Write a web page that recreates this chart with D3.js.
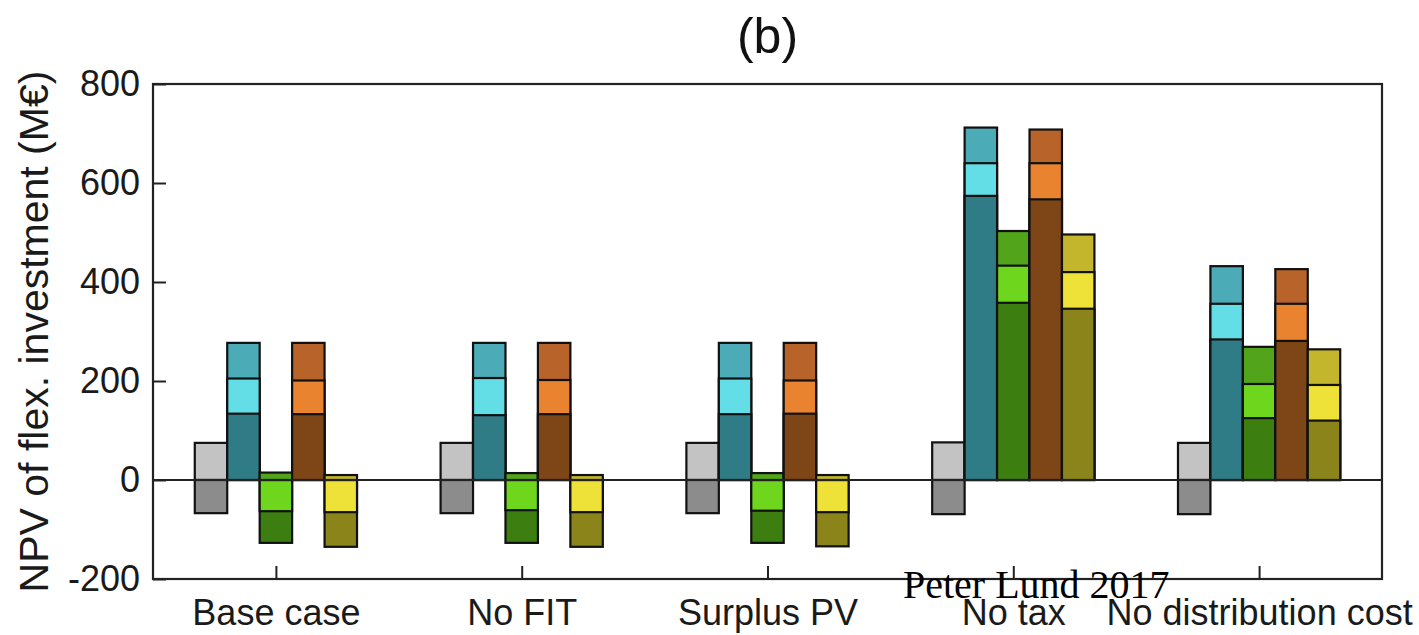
<!DOCTYPE html>
<html>
<head>
<meta charset="utf-8">
<script src="https://cdn.jsdelivr.net/npm/d3@7"></script>
<style>
body { margin: 0; background: #fff; }
</style>
</head>
<body>
<script>
// categories along the x axis
var categories = ['Base case', 'No FIT', 'Surplus PV', 'No tax', 'No distribution cost'];
var yTicks = [-200, 0, 200, 400, 600, 800];

// NPV per technology and scenario (M€), one row per category
// order of values: dark, light, medium scenario
var grayVals   = [[-67, 75], [-67, 75], [-67, 75], [-69, 76], [-69, 75]];
var tealVals   = [[134, 205, 277], [131, 206, 277], [133, 205, 277], [574, 640, 712], [284, 356, 432]];
var greenVals  = [[-127, -63, 15], [-127, -61, 14], [-127, -62, 14], [358, 433, 503], [125, 194, 269]];
var brownVals  = [[133, 201, 277], [133, 202, 277], [134, 201, 277], [567, 640, 708], [281, 356, 426]];
var yellowVals = [[-135, -65, 10], [-135, -65, 10], [-134, -65, 10], [346, 420, 496], [120, 192, 264]];

var techs = [
	{ vals: grayVals,   colors: ['#8c8c8c', '#c3c3c3'] },
	{ vals: tealVals,   colors: ['#2f7b86', '#63dee7', '#4babb6'] },
	{ vals: greenVals,  colors: ['#3d7e10', '#6dd61d', '#52a51a'] },
	{ vals: brownVals,  colors: ['#7e4516', '#e9832f', '#b8632a'] },
	{ vals: yellowVals, colors: ['#8a841a', '#eee137', '#c3b52c'] }
];

var W = 1419, H = 635;
var margin = { left: 153, right: 1382, top: 84, bottom: 579 };
var BARW = 0.132; // bar width in x units (matlab style grouped bars)
var FONT = '"Liberation Sans", Arial, sans-serif';

var svg = d3.select('body').append('svg')
	.attr('width', W)
	.attr('height', H)
	.style('font-family', FONT);

var x = d3.scaleLinear().domain([0.5, 5.5]).range([margin.left, margin.right]);
var y = d3.scaleLinear().domain([-200, 800]).range([margin.bottom, margin.top]);

// ------------------------ BARS ------------------------
var bars = [];
categories.forEach(function(cat, i) {
	techs.forEach(function(t, j) {
		var vs = t.vals[i].map(function(v, k) { return { v: v, color: t.colors[k] }; });
		// biggest first so smaller ones sit on top
		vs.sort(function(a, b) { return Math.abs(b.v) - Math.abs(a.v); });
		vs.forEach(function(s) {
			bars.push({ xc: i + 1 + (j - 2) * BARW, v: s.v, color: s.color });
		});
	});
});

svg.append('g').selectAll('rect')
	.data(bars)
	.enter()
	.append('rect')
	.attr('x', function(d) { return x(d.xc - BARW / 2); })
	.attr('width', function(d) { return x(BARW) - x(0); })
	.attr('y', function(d) { return Math.min(y(0), y(d.v)); })
	.attr('height', function(d) { return Math.abs(y(d.v) - y(0)); })
	.attr('fill', function(d) { return d.color; })
	.attr('stroke', '#111')
	.attr('stroke-width', 2.2);

// zero line
svg.append('line')
	.attr('x1', margin.left).attr('x2', margin.right)
	.attr('y1', y(0)).attr('y2', y(0))
	.attr('stroke', '#222')
	.attr('stroke-width', 1.8);

// ------------------------ AXES ------------------------
var yAxis = d3.axisLeft(y).tickValues(yTicks)
	.tickFormat(function(d) { return String(d); })
	.tickSize(-13).tickPadding(13);
var gy = svg.append('g').attr('transform', 'translate(' + margin.left + ',0)').call(yAxis);

var xAxis = d3.axisBottom(x).tickValues([1, 2, 3, 4, 5])
	.tickFormat(function(d) { return categories[d - 1]; })
	.tickSize(-13).tickPadding(20);
var gx = svg.append('g').attr('transform', 'translate(0,' + margin.bottom + ')').call(xAxis);

[gx, gy].forEach(function(g) {
	g.select('.domain').remove();
	g.selectAll('line').attr('stroke', '#222').attr('stroke-width', 2);
	g.selectAll('text').attr('fill', '#1a1a1a').style('font-size', '36px').style('font-family', FONT);
});
gx.selectAll('text').attr('dy', '0.71em');

// box
svg.append('rect')
	.attr('x', margin.left).attr('y', margin.top)
	.attr('width', margin.right - margin.left)
	.attr('height', margin.bottom - margin.top)
	.attr('fill', 'none')
	.attr('stroke', '#222')
	.attr('stroke-width', 2.2);

// ------------------------ LABELS ------------------------
svg.append('text')
	.attr('x', (margin.left + margin.right) / 2)
	.attr('y', 53)
	.attr('text-anchor', 'middle')
	.style('font-size', '50px')
	.attr('fill', '#111')
	.text('(b)');

svg.append('text')
	.attr('transform', 'translate(48,' + (margin.top + margin.bottom) / 2 + ') rotate(-90)')
	.attr('text-anchor', 'middle')
	.style('font-size', '41px')
	.attr('fill', '#1a1a1a')
	.text('NPV of flex. investment (M€)');

// watermark over the axis labels
svg.append('text')
	.attr('x', 903)
	.attr('y', 598)
	.style('font-family', '"Liberation Serif", "Times New Roman", serif')
	.style('font-size', '40px')
	.attr('fill', '#000')
	.text('Peter Lund 2017');
</script>
</body>
</html>
